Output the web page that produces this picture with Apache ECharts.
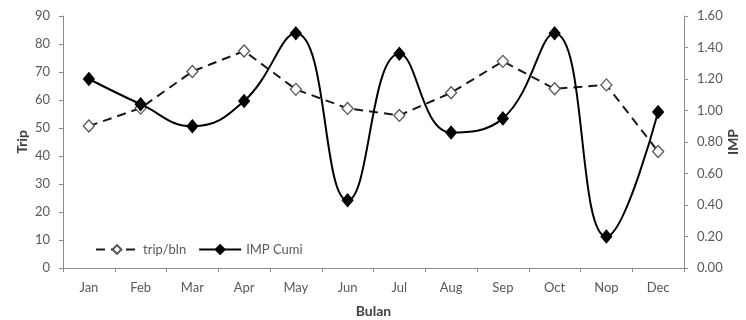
<!DOCTYPE html>
<html>
<head>
<meta charset="utf-8">
<script src="https://cdn.jsdelivr.net/npm/echarts@6/dist/echarts.min.js"></script>
<style>
  html, body { margin: 0; padding: 0; background: #fff; }
  #chart { width: 746px; height: 320px; }
</style>
</head>
<body>
<div id="chart"></div>
<script>
// Months (Indonesian abbreviations)
var months = ['Jan', 'Feb', 'Mar', 'Apr', 'May', 'Jun', 'Jul', 'Aug', 'Sep', 'Oct', 'Nop', 'Dec'];
// Trips per month (left axis)
var tripPerMonth = [50.7, 57.1, 70.2, 77.5, 63.8, 57.0, 54.5, 62.6, 73.8, 64.0, 65.4, 41.6];
// Squid IMP value (right axis)
var impCumi = [1.20, 1.04, 0.90, 1.06, 1.49, 0.43, 1.36, 0.86, 0.95, 1.49, 0.20, 0.99];

var FONT = 'Lato, "Open Sans", sans-serif';
var AXIS_COLOR = '#8c8c8c';
var LABEL_COLOR = '#595959';
var NAME_STYLE = { fontFamily: FONT, fontSize: 14, fontWeight: 'bold', color: '#404040' };

var chart = echarts.init(document.getElementById('chart'));
chart.setOption({
  animation: false,
  backgroundColor: '#ffffff',
  textStyle: { fontFamily: FONT },
  grid: { left: 63, right: 62, top: 16, bottom: 52, containLabel: false, outerBoundsMode: 'none' },
  legend: {
    left: 90,
    top: 238,
    itemWidth: 42,
    itemHeight: 11,
    itemGap: 12,
    textStyle: { fontFamily: FONT, fontSize: 13, color: LABEL_COLOR },
    data: ['trip/bln', 'IMP Cumi']
  },
  xAxis: {
    type: 'category',
    data: months,
    boundaryGap: true,
    name: 'Bulan',
    nameLocation: 'middle',
    nameGap: 36,
    nameMoveOverlap: false,
    nameTextStyle: NAME_STYLE,
    axisLine: { lineStyle: { color: AXIS_COLOR, width: 1 } },
    axisTick: { show: true, length: 4, lineStyle: { color: AXIS_COLOR } },
    axisLabel: { margin: 13, fontSize: 13, color: LABEL_COLOR, fontFamily: FONT },
    splitLine: { show: false }
  },
  yAxis: [
    {
      type: 'value',
      min: 0, max: 90, interval: 10,
      name: 'Trip',
      nameLocation: 'middle',
      nameGap: 34,
      nameMoveOverlap: false,
      nameRotate: 90,
      nameTextStyle: NAME_STYLE,
      axisLine: { show: true, lineStyle: { color: AXIS_COLOR } },
      axisTick: { show: true, length: 4, lineStyle: { color: AXIS_COLOR } },
      axisLabel: { margin: 13, fontSize: 13, color: LABEL_COLOR, fontFamily: FONT },
      splitLine: { show: false }
    },
    {
      type: 'value',
      min: 0, max: 1.6, interval: 0.2,
      name: 'IMP',
      nameLocation: 'middle',
      nameGap: 42,
      nameMoveOverlap: false,
      nameRotate: 90,
      nameTextStyle: NAME_STYLE,
      axisLine: { show: true, lineStyle: { color: AXIS_COLOR } },
      axisTick: { show: true, length: 4, lineStyle: { color: AXIS_COLOR } },
      axisLabel: {
        margin: 13, fontSize: 13, color: LABEL_COLOR, fontFamily: FONT,
        formatter: function (v) { return v.toFixed(2); }
      },
      splitLine: { show: false }
    }
  ],
  series: [
    {
      name: 'trip/bln',
      type: 'line',
      yAxisIndex: 0,
      data: tripPerMonth,
      smooth: false,
      symbol: 'diamond',
      symbolSize: [11, 12],
      itemStyle: { color: '#ffffff', borderColor: '#555555', borderWidth: 1.3 },
      lineStyle: { color: '#1a1a1a', width: 2, type: [9, 6] },
      z: 2
    },
    {
      name: 'IMP Cumi',
      type: 'line',
      yAxisIndex: 1,
      data: impCumi,
      smooth: 0.45,
      symbol: 'diamond',
      symbolSize: [11, 13],
      itemStyle: { color: '#000000', borderColor: '#000000', borderWidth: 1 },
      lineStyle: { color: '#000000', width: 2 },
      z: 3
    }
  ]
});
</script>
</body>
</html>
